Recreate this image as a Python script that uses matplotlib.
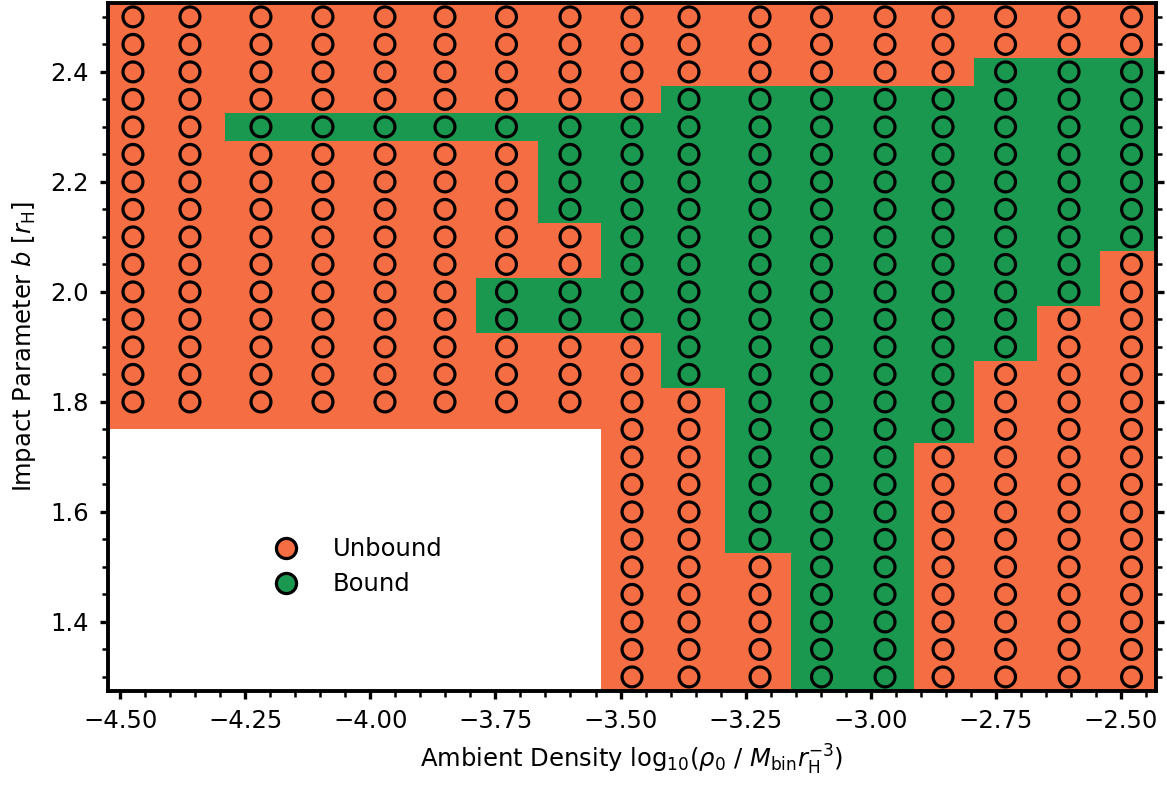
import matplotlib
matplotlib.use("Agg")

import matplotlib.pyplot as plt
import numpy as np
from matplotlib.colors import ListedColormap
from matplotlib.lines import Line2D
from matplotlib.patches import Rectangle
from matplotlib.ticker import MultipleLocator

# log10 ambient density of each run column
log_rho = np.array([
    -4.475, -4.361, -4.219, -4.095, -3.971, -3.851, -3.728, -3.601,
    -3.477, -3.363, -3.221, -3.098, -2.971, -2.855, -2.730, -2.603, -2.478,
])

# impact parameters sampled (in r_H)
b_values = np.round(np.arange(1.30, 2.5001, 0.05), 2)

# smallest impact parameter that was run for each column
b_min = [1.8] * 8 + [1.3] * 9

# ranges of b (inclusive) that ended up bound, per column
bound_ranges = [
    [],
    [],
    [(2.30, 2.30)],
    [(2.30, 2.30)],
    [(2.30, 2.30)],
    [(2.30, 2.30)],
    [(1.95, 2.00), (2.30, 2.30)],
    [(1.95, 2.00), (2.15, 2.30)],
    [(1.95, 2.30)],
    [(1.85, 2.35)],
    [(1.55, 2.35)],
    [(1.30, 2.35)],
    [(1.30, 2.35)],
    [(1.75, 2.35)],
    [(1.90, 2.40)],
    [(2.00, 2.40)],
    [(2.10, 2.40)],
]

ORANGE = "#f46d43"
GREEN = "#1a9850"

# status grid: nan = not run, 0 = unbound, 1 = bound
status = np.full((len(b_values), len(log_rho)), np.nan)
for j, ranges in enumerate(bound_ranges):
    run = b_values >= b_min[j] - 1e-9
    status[run, j] = 0.0
    for lo, hi in ranges:
        hit = (b_values >= lo - 1e-9) & (b_values <= hi + 1e-9)
        status[hit, j] = 1.0

fig = plt.figure(figsize=(11.67, 7.88), dpi=100)
ax = fig.add_axes([0.0925, 0.1235, 0.8977, 0.8725])
ax.set_facecolor(ORANGE)

cmap = ListedColormap([ORANGE, GREEN])
ax.pcolormesh(log_rho, b_values, np.ma.masked_invalid(status),
              cmap=cmap, vmin=0, vmax=1, shading="nearest", zorder=1)

# blank out the part of parameter space that was never run
x_lo, x_hi = -4.525, -2.43
y_lo, y_hi = 1.275, 2.525
x_gap = 0.5 * (log_rho[7] + log_rho[8])
ax.add_patch(Rectangle((x_lo, y_lo), x_gap - x_lo, 1.75 - y_lo,
                       facecolor="white", edgecolor="none", zorder=2))

xx, yy = np.meshgrid(log_rho, b_values)
ok = ~np.isnan(status)
face = np.where(status[ok] > 0.5, GREEN, ORANGE)
ax.scatter(xx[ok], yy[ok], s=205, c=face, edgecolors="black",
           linewidths=2.3, zorder=3)

ax.set_xlim(x_lo, x_hi)
ax.set_ylim(y_lo, y_hi)

ax.xaxis.set_major_locator(MultipleLocator(0.25))
ax.xaxis.set_minor_locator(MultipleLocator(0.05))
ax.yaxis.set_major_locator(MultipleLocator(0.2))
ax.yaxis.set_minor_locator(MultipleLocator(0.05))
ax.tick_params(which="both", direction="out", right=True, top=False,
               labelsize=17.5)
ax.tick_params(which="major", length=5.5, width=2.4, pad=8)
ax.tick_params(which="minor", length=4, width=1.8)
for spine in ax.spines.values():
    spine.set_linewidth(2.8)
    spine.set_zorder(5)

ax.set_xlabel(r"Ambient Density log$_{10}$($\rho_0$ / $M_{\rm bin}r_{\rm H}^{-3}$)",
              fontsize=17.5, labelpad=7)
ax.set_ylabel(r"Impact Parameter $b$ [$r_{\rm H}$]", fontsize=17.5, labelpad=9)

handles = [
    Line2D([], [], linestyle="none", marker="o", markersize=14.5,
           markerfacecolor=ORANGE, markeredgecolor="black",
           markeredgewidth=2.3, label="Unbound"),
    Line2D([], [], linestyle="none", marker="o", markersize=14.5,
           markerfacecolor=GREEN, markeredgecolor="black",
           markeredgewidth=2.3, label="Bound"),
]
leg = ax.legend(handles=handles, loc="center", bbox_to_anchor=(0.233, 0.18),
                frameon=False, fontsize=17.5, handletextpad=0.9,
                labelspacing=0.45)
leg.set_zorder(6)

fig.savefig("out.png", dpi=100)
plt.close(fig)
